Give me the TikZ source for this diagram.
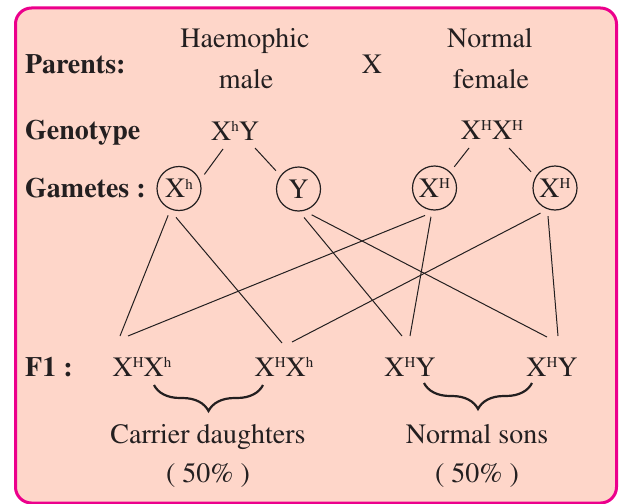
\documentclass[tikz,border=0pt]{standalone}
\usepackage[T1]{fontenc}
\usepackage{mathptmx}
\usetikzlibrary{decorations.pathreplacing}
\definecolor{hmpink}{RGB}{236,0,140}
\definecolor{hmfill}{RGB}{254,214,201}
\definecolor{hmink}{RGB}{35,31,32}
\newcommand{\allele}[1]{\raisebox{8.5pt}{\fontsize{15}{15}\selectfont #1}}
\tikzset{
  txt/.style={anchor=base,inner sep=0pt,text=hmink,
              font=\fontsize{28}{34}\selectfont},
  lbl/.style={txt,anchor=base west,
              font=\fontsize{28}{34}\selectfont\bfseries},
  gam/.style={circle,draw=hmink,line width=1.2pt,minimum size=44pt,
              inner sep=0pt,outer sep=7pt,text=hmink,
              font=\fontsize{28}{34}\selectfont},
  link/.style={draw=hmink,line width=1pt},
  brc/.style={decorate,decoration={brace,mirror,amplitude=26pt},
              line width=2.2pt,draw=hmink},
}

\begin{document}
\begin{tikzpicture}[x=1pt,y=-1pt]
  \useasboundingbox (0,0) rectangle (620,503);
  \draw[hmpink,line width=3pt,fill=hmfill,rounded corners=16pt]
        (15.5,8) rectangle (616.5,503);

  % row labels
  \node[lbl] (parents)  at (25,73)  {Parents:};
  \node[lbl] (genotype) at (25,139) {Genotype};
  \node[lbl] (gametes)  at (25,197) {Gametes :};
  \node[lbl] (fone)     at (25,376) {F1 :};

  % parents
  \node[txt] (male1) at (245,48) {Haemophic};
  \node[txt] (male2) at (246,88) {male};
  \node[txt] (cross) at (372,74) {X};
  \node[txt] (fem1)  at (490,48) {Normal};
  \node[txt] (fem2)  at (491,88) {female};

  % genotypes and gametes
  \node[txt] (gen1) at (235,140) {X\allele{h}Y};
  \node[txt] (gen2) at (492,139) {X\allele{H}X\allele{H}};
  \node[gam] (gXh) at (179,188.5) {X\allele{h}};
  \node[gam] (gY)  at (298.5,189) {Y};
  \node[gam] (gH1) at (434.5,188) {X\allele{H}};
  \node[gam] (gH2) at (555,188)   {X\allele{H}};

  % offspring
  \node[txt] (f1) at (142,376) {X\allele{H}X\allele{h}};
  \node[txt] (f2) at (284,376) {X\allele{H}X\allele{h}};
  \node[txt] (f3) at (410,376) {X\allele{H}Y};
  \node[txt] (f4) at (552,376) {X\allele{H}Y};

  \node[txt] (carrier) at (208,443) {Carrier daughters};
  \node[txt] (pc1)     at (208,482) {( 50\% )};
  \node[txt] (sons)    at (477,443) {Normal sons};
  \node[txt] (pc2)     at (477,482) {( 50\% )};

  % genotype -> gametes
  \draw[link] ([shift={(-12,9)}]gen1.base) -- (gXh.29);
  \draw[link] ([shift={(20,8)}]gen1.base)  -- (gY.141);
  \draw[link] ([shift={(-23,9)}]gen2.base) -- (gH1.47);
  \draw[link] ([shift={(17,9)}]gen2.base)  -- (gH2.146);

  % gametes -> F1
  \draw[link] (gXh.-112) -- ([shift={(-22,-40)}]f1.base);
  \draw[link] (gXh.-96)  -- ([shift={(-2,-33)}]f2.base);
  \draw[link] (gY.-79)   -- ([shift={(-8,-40)}]f3.base);
  \draw[link] (gY.-63)   -- ([shift={(-5,-39)}]f4.base);
  \draw[link] (gH1.-109) -- ([shift={(-14,-40)}]f1.base);
  \draw[link] (gH1.-97)  -- ([shift={(0,-40)}]f3.base);
  \draw[link] (gH2.-120) -- ([shift={(8,-34)}]f2.base);
  \draw[link] (gH2.-104) -- ([shift={(6,-40)}]f4.base);

  % braces
  \draw[brc] ([shift={(12,9)}]f1.base) -- ([shift={(-21,9)}]f2.base);
  \draw[brc] ([shift={(14,7)}]f3.base) -- ([shift={(-20,7)}]f4.base);
\end{tikzpicture}
\end{document}
